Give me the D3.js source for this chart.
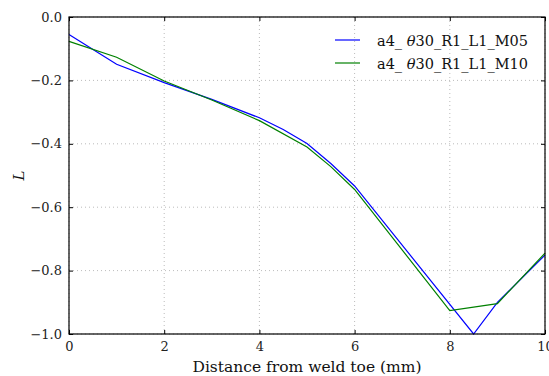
<!DOCTYPE html>
<html>
<head>
<meta charset="utf-8">
<script src="https://cdn.jsdelivr.net/npm/d3@7"></script>
<style>
  body { margin: 0; background: #fff; }
  text { font-family: "DejaVu Serif", "Liberation Serif", serif; }
</style>
</head>
<body>
<div id="chart"></div>
<script>
const xM05 = [0, 1, 2, 3, 4, 4.5, 5, 5.5, 6, 8.5, 9, 10];
const yM05 = [-0.055, -0.149, -0.207, -0.26, -0.318, -0.355, -0.399, -0.462, -0.533, -1.0, -0.9, -0.751];
const xM10 = [0, 1, 2, 3, 4, 5, 5.5, 6, 8, 9, 10];
const yM10 = [-0.077, -0.127, -0.202, -0.262, -0.327, -0.41, -0.472, -0.544, -0.926, -0.904, -0.745];
const seriesNames = ["M05", "M10"];
const xTicks = [0, 2, 4, 6, 8, 10];
const yTicks = [0, -0.2, -0.4, -0.6, -0.8, -1.0];

const width = 549, height = 376;
const margin = { top: 17, right: 4, bottom: 42, left: 69 };
const w = width - margin.left - margin.right;
const h = height - margin.top - margin.bottom;

const svg = d3.select('#chart').append('svg').attr('width', width).attr('height', height);
const g = svg.append('g').attr('transform', 'translate(' + margin.left + ',' + margin.top + ')');

const x = d3.scaleLinear().domain([0, 10]).range([0, w]);
const y = d3.scaleLinear().domain([-1, 0]).range([h, 0]);

const fmt = d => (d < 0 ? '\u2212' : '') + Math.abs(d).toFixed(1);

// grid
g.append('g').selectAll('line').data(xTicks).enter().append('line')
  .attr('x1', d => x(d)).attr('x2', d => x(d)).attr('y1', 0).attr('y2', h)
  .attr('stroke', '#aaa').attr('stroke-width', 0.8).attr('stroke-dasharray', '1,3');
g.append('g').selectAll('line').data(yTicks).enter().append('line')
  .attr('y1', d => y(d)).attr('y2', d => y(d)).attr('x1', 0).attr('x2', w)
  .attr('stroke', '#aaa').attr('stroke-width', 0.8).attr('stroke-dasharray', '1,3');

// axes, ticks inward on all sides
const xb = g.append('g').attr('transform', 'translate(0,' + h + ')')
  .call(d3.axisBottom(x).tickValues(xTicks).tickSizeInner(-4).tickSizeOuter(0).tickPadding(8).tickFormat(d3.format('d')));
const xt = g.append('g')
  .call(d3.axisTop(x).tickValues(xTicks).tickSizeInner(-4).tickSizeOuter(0).tickFormat(''));
const yl = g.append('g')
  .call(d3.axisLeft(y).tickValues(yTicks).tickSizeInner(-4).tickSizeOuter(0).tickPadding(7).tickFormat(fmt));
const yr = g.append('g').attr('transform', 'translate(' + w + ',0)')
  .call(d3.axisRight(y).tickValues(yTicks).tickSizeInner(-4).tickSizeOuter(0).tickFormat(''));
[xb, xt, yl, yr].forEach(a => {
  a.select('.domain').remove();
  a.selectAll('line').attr('stroke', '#000');
  a.selectAll('text').attr('font-size', 13).attr('fill', '#222').style('font-family', '"DejaVu Serif", serif');
});

// data lines
const line = d3.line().x(d => x(d[0])).y(d => y(d[1]));
const dataM05 = d3.zip(xM05, yM05);
const dataM10 = d3.zip(xM10, yM10);
const colors = { M05: '#0000ff', M10: '#008000' };

g.append('path').datum(dataM05).attr('d', line)
  .attr('fill', 'none').attr('stroke', colors.M05).attr('stroke-width', 1.2);
g.append('path').datum(dataM10).attr('d', line)
  .attr('fill', 'none').attr('stroke', colors.M10).attr('stroke-width', 1.2);

// frame
g.append('rect').attr('width', w).attr('height', h)
  .attr('fill', 'none').attr('stroke', '#000').attr('stroke-width', 1.2);

// legend
const leg = g.selectAll('.leg').data(seriesNames).enter().append('g')
  .attr('transform', (d, i) => 'translate(' + (335 - margin.left) + ',' + (40 - margin.top + i * 23) + ')');
leg.append('line').attr('x1', 0).attr('x2', 25).attr('y1', 0).attr('y2', 0)
  .attr('stroke', d => colors[d]).attr('stroke-width', 1.2);
const lt = leg.append('text').attr('x', 42).attr('y', 6).attr('font-size', 14.5).attr('fill', '#111');
lt.append('tspan').text('a4_ ');
lt.append('tspan').attr('font-style', 'italic').text('\u03b8');
lt.append('tspan').text(d => '30_R1_L1_' + d);

// axis labels
svg.append('text').attr('x', margin.left + w / 2).attr('y', 372).attr('text-anchor', 'middle')
  .attr('font-size', 15.5).attr('fill', '#111').text('Distance from weld toe (mm)');
svg.append('text').attr('transform', 'translate(24,' + (margin.top + h / 2) + ') rotate(-90)')
  .attr('text-anchor', 'middle').attr('font-size', 15).attr('font-style', 'italic').attr('fill', '#111').text('L');
</script>
</body>
</html>
